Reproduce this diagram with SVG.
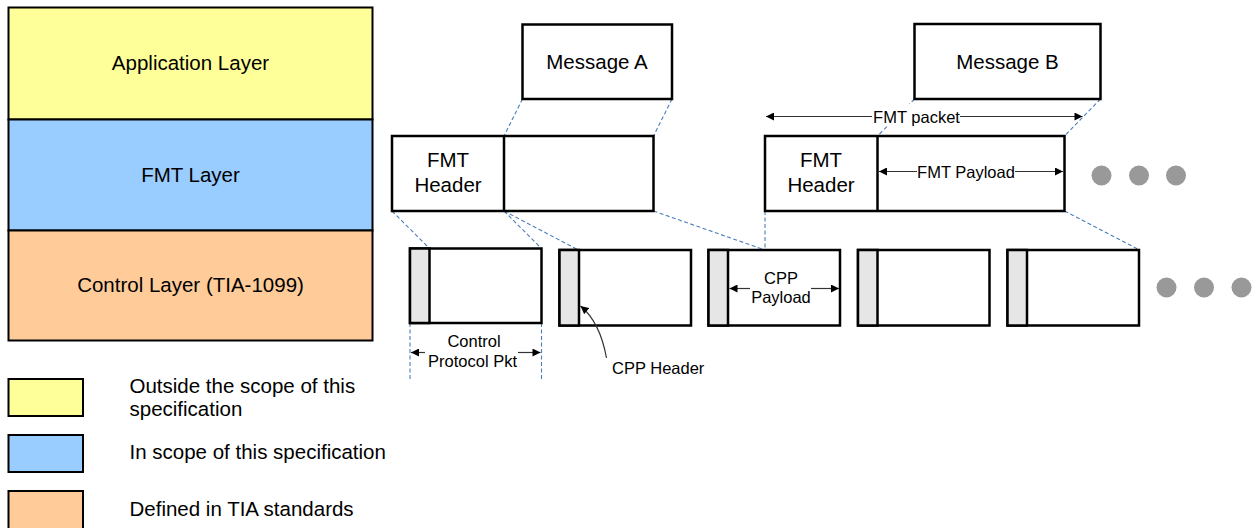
<svg xmlns="http://www.w3.org/2000/svg" width="1258" height="528" viewBox="0 0 1258 528">
<defs>
<style>
text{font-family:"Liberation Sans",Arial,sans-serif;fill:#000}
.big{font-size:20.5px}
.sm{font-size:16.5px}
.box{fill:#fff;stroke:#000;stroke-width:2.5}
.hdr{fill:#e6e6e6;stroke:#000;stroke-width:2.5}
.lay{stroke:#000;stroke-width:2}
.dash{fill:none;stroke:#4a7ebb;stroke-width:1.1;stroke-dasharray:4 2.5}
.dim{fill:none;stroke:#333;stroke-width:1.2}
.dot{fill:#999}
</style>
<marker id="ah" viewBox="0 0 10 10" refX="10" refY="5" markerWidth="9" markerHeight="8" markerUnits="userSpaceOnUse" orient="auto-start-reverse">
<path d="M0,0 L10,5 L0,10 z" fill="#000"/>
</marker>
</defs>
<rect width="1258" height="528" fill="#fff"/>

<g id="layer-app"><rect class="lay" x="8.5" y="7.5" width="364" height="112" fill="#ffff99"/><text class="big" x="190.5" y="70" text-anchor="middle">Application Layer</text></g>
<g id="layer-fmt"><rect class="lay" x="8.5" y="119.5" width="364" height="111" fill="#99ccff"/><text class="big" x="190.5" y="182" text-anchor="middle">FMT Layer</text></g>
<g id="layer-control"><rect class="lay" x="8.5" y="230.5" width="364" height="110" fill="#ffcc99"/><text class="big" x="190.5" y="292" text-anchor="middle">Control Layer (TIA-1099)</text></g>

<g id="legend-outside"><rect class="lay" x="8.5" y="379" width="74.5" height="37" fill="#ffff99"/><text class="big" x="129.5" y="393">Outside the scope of this</text><text class="big" x="129.5" y="416">specification</text></g>
<g id="legend-inscope"><rect class="lay" x="8.5" y="435" width="74.5" height="37" fill="#99ccff"/><text class="big" x="129.5" y="459">In scope of this specification</text></g>
<g id="legend-tia"><rect class="lay" x="8.5" y="491" width="74.5" height="40" fill="#ffcc99"/><text class="big" x="129.5" y="516">Defined in TIA standards</text></g>

<g id="connectors">
<line class="dash" x1="522.5" y1="99" x2="504" y2="136"/>
<line class="dash" x1="672" y1="99" x2="653.5" y2="136"/>
<line class="dash" x1="914.5" y1="99" x2="877.5" y2="136"/>
<line class="dash" x1="1100.5" y1="99" x2="1064.5" y2="136"/>
<line class="dash" x1="392" y1="211" x2="429.5" y2="248.5"/>
<line class="dash" x1="504" y1="211" x2="541.5" y2="248.5"/>
<line class="dash" x1="504" y1="211" x2="578.5" y2="250"/>
<line class="dash" x1="653.5" y1="211" x2="765" y2="250"/>
<line class="dash" x1="765" y1="211" x2="765" y2="250"/>
<line class="dash" x1="1064.5" y1="211" x2="1139.5" y2="250"/>
<line class="dash" x1="410" y1="323" x2="410" y2="381"/>
<line class="dash" x1="541.5" y1="323" x2="541.5" y2="381"/>
</g>

<g id="msg-a"><rect class="box" x="522.5" y="24.5" width="149.5" height="74.5"/><text class="big" x="597" y="68.5" text-anchor="middle">Message A</text></g>
<g id="msg-b"><rect class="box" x="914.5" y="24" width="186" height="75"/><text class="big" x="1007.5" y="68.5" text-anchor="middle">Message B</text></g>

<g id="fmt-a">
<rect class="box" x="392" y="136" width="261.5" height="75"/>
<line class="box" x1="504" y1="136" x2="504" y2="211"/>
<text class="big" x="448" y="167" text-anchor="middle">FMT</text>
<text class="big" x="448" y="192" text-anchor="middle">Header</text>
</g>
<g id="fmt-b">
<rect class="box" x="765" y="136" width="299.5" height="75"/>
<line class="box" x1="877.5" y1="136" x2="877.5" y2="211"/>
<text class="big" x="821" y="167" text-anchor="middle">FMT</text>
<text class="big" x="821" y="192" text-anchor="middle">Header</text>
</g>

<g id="fmt-packet-label">
<rect x="871" y="104" width="90" height="22" fill="#fff"/>
<line class="dim" x1="872" y1="116.5" x2="766" y2="116.5" marker-end="url(#ah)"/>
<line class="dim" x1="960" y1="116.5" x2="1082.5" y2="116.5" marker-end="url(#ah)"/>
<text class="sm" x="916.5" y="122.5" text-anchor="middle">FMT packet</text>
</g>
<g id="fmt-payload-label">
<line class="dim" x1="917" y1="171.5" x2="879" y2="171.5" marker-end="url(#ah)"/>
<line class="dim" x1="1015" y1="171.5" x2="1063" y2="171.5" marker-end="url(#ah)"/>
<text class="sm" x="966" y="177.5" text-anchor="middle">FMT Payload</text>
</g>

<g id="dots-top"><circle class="dot" cx="1101.5" cy="175.5" r="10"/><circle class="dot" cx="1139" cy="175.5" r="10"/><circle class="dot" cx="1176" cy="175.5" r="10"/></g>

<g id="cpp-1"><rect class="box" x="410" y="248.5" width="131.5" height="74.5"/><rect class="hdr" x="410" y="248.5" width="19.5" height="74.5"/></g>
<g id="cpp-2"><rect class="box" x="559.5" y="250" width="131.5" height="75.5"/><rect class="hdr" x="559.5" y="250" width="19.5" height="75.5"/></g>
<g id="cpp-3"><rect class="box" x="708.5" y="250" width="131.5" height="75.5"/><rect class="hdr" x="708.5" y="250" width="19.5" height="75.5"/>
<text class="sm" x="781" y="283.5" text-anchor="middle">CPP</text><text class="sm" x="781" y="303" text-anchor="middle">Payload</text>
<line class="dim" x1="750" y1="288.5" x2="729.5" y2="288.5" marker-end="url(#ah)"/>
<line class="dim" x1="811" y1="288.5" x2="839" y2="288.5" marker-end="url(#ah)"/>
</g>
<g id="cpp-4"><rect class="box" x="858" y="250" width="131.5" height="75.5"/><rect class="hdr" x="858" y="250" width="19.5" height="75.5"/></g>
<g id="cpp-5"><rect class="box" x="1007.5" y="250" width="131.5" height="75.5"/><rect class="hdr" x="1007.5" y="250" width="19.5" height="75.5"/></g>

<g id="dots-bottom"><circle class="dot" cx="1166.5" cy="287.5" r="10"/><circle class="dot" cx="1204" cy="287.5" r="10"/><circle class="dot" cx="1241.5" cy="287.5" r="10"/></g>

<g id="cpp-pkt-label">
<line class="dim" x1="425" y1="352.5" x2="411" y2="352.5" marker-end="url(#ah)"/>
<line class="dim" x1="518" y1="352.5" x2="540.5" y2="352.5" marker-end="url(#ah)"/>
<text class="sm" x="474" y="347" text-anchor="middle">Control</text>
<text class="sm" x="472.5" y="367" text-anchor="middle">Protocol Pkt</text>
</g>
<g id="cpp-header-label">
<path class="dim" d="M606.5,358 Q600,322 580.5,306" stroke="#000" marker-end="url(#ah)"/>
<text class="sm" x="612" y="374">CPP Header</text>
</g>
</svg>
